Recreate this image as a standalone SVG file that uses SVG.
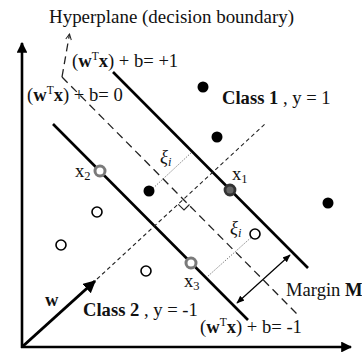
<svg xmlns="http://www.w3.org/2000/svg" width="362" height="352" viewBox="0 0 362 352">
<style>
text{font-family:"Liberation Serif","Times New Roman",serif;font-size:18.6px;fill:#111}
.b{font-weight:bold}
.sup{font-size:11.5px}
.sub{font-size:12.5px}
.axis{stroke:#000;stroke-width:2.6;fill:none}
.solid{stroke:#000;stroke-width:2.6;fill:none}
.hyper{stroke:#222;stroke-width:1.3;stroke-dasharray:8 5;fill:none}
.perp{stroke:#222;stroke-width:1.1;stroke-dasharray:4 3;fill:none}
.dot{stroke:#555;stroke-width:0.9;stroke-dasharray:1.2 1.6;fill:none}
.c1{fill:#000}
.c2{fill:#fff;stroke:#000;stroke-width:1.6}
.sv{fill:#fff;stroke:#7a7a7a;stroke-width:3}
</style>
<defs>
<marker id="ah" viewBox="0 0 10 10" refX="9" refY="5" markerWidth="4.2" markerHeight="4.2" orient="auto-start-reverse">
<path d="M0,0 L10,5 L0,10 z" fill="#000"/>
</marker>
<marker id="ahs" viewBox="0 0 10 10" refX="9" refY="5" markerWidth="8" markerHeight="8" markerUnits="userSpaceOnUse" orient="auto-start-reverse">
<path d="M0,1 L10,5 L0,9 z" fill="#000"/>
</marker>
<marker id="open" viewBox="0 0 10 10" refX="9" refY="5" markerWidth="7" markerHeight="7" markerUnits="userSpaceOnUse" orient="auto">
<path d="M1,1 L9,5 L1,9" fill="none" stroke="#222" stroke-width="1.4"/>
</marker>
</defs>
<rect width="362" height="352" fill="#fff"/>

<g id="connectors">
<line id="y-axis" class="axis" x1="22" y1="348" x2="22" y2="43" marker-end="url(#ah)"/>
<line id="x-axis" class="axis" x1="21" y1="347" x2="351" y2="347" marker-end="url(#ah)"/>
<line id="margin-plus" class="solid" x1="113" y1="72" x2="308" y2="268"/>
<line id="margin-minus" class="solid" x1="53" y1="124" x2="248" y2="320"/>
<line id="hyperplane" class="hyper" x1="62" y1="77" x2="299" y2="316"/>
<line id="hyperplane-pointer" class="hyper" stroke-dasharray="4 3" x1="62" y1="77" x2="69.5" y2="34" marker-end="url(#open)"/>
<line id="w-direction" class="perp" x1="97" y1="279" x2="266" y2="123"/>
<line id="w-vector" stroke="#000" stroke-width="3" x1="22" y1="347" x2="95" y2="281" marker-end="url(#ah)"/>
<polyline id="right-angle" points="189.5,204.5 184,210 178.3,204.4" fill="none" stroke="#222" stroke-width="1.1"/>
<line id="xi-upper" class="dot" x1="149" y1="192" x2="192" y2="152"/>
<line id="xi-lower" class="dot" x1="255" y1="234" x2="207" y2="277"/>
<line id="margin-arrow" stroke="#000" stroke-width="1.2" x1="237" y1="303" x2="290" y2="255" marker-start="url(#ahs)" marker-end="url(#ahs)"/>
</g>

<g id="class1-points">
<circle class="c1" cx="203" cy="87" r="5.5"/>
<circle class="c1" cx="217" cy="137" r="5.5"/>
<circle class="c1" cx="149" cy="191" r="5.5"/>
<circle class="c1" cx="328" cy="203" r="5.5"/>
</g>
<g id="class2-points">
<circle class="c2" cx="97" cy="212" r="5"/>
<circle class="c2" cx="61" cy="245" r="5"/>
<circle class="c2" cx="146" cy="271" r="5"/>
<circle class="c2" cx="255" cy="234" r="5"/>
</g>
<g id="x1"><circle cx="230" cy="190" r="5" fill="#666" stroke="#333" stroke-width="2.8"/>
<text x="232" y="180">x<tspan class="sub" dy="3">1</tspan></text></g>
<g id="x2"><circle class="sv" cx="100" cy="171" r="5"/>
<text x="75" y="177">x<tspan class="sub" dy="3">2</tspan></text></g>
<g id="x3"><circle class="sv" cx="191" cy="263" r="5"/>
<text x="184" y="287">x<tspan class="sub" dy="3">3</tspan></text></g>

<g id="labels">
<text x="49" y="23" font-size="19" textLength="245" lengthAdjust="spacingAndGlyphs">Hyperplane (decision boundary)</text>
<text x="72" y="67">(<tspan class="b">w</tspan><tspan class="sup" dy="-7">T</tspan><tspan class="b" dy="7">x</tspan>) + b= +1</text>
<text x="27" y="101">(<tspan class="b">w</tspan><tspan class="sup" dy="-7">T</tspan><tspan class="b" dy="7">x</tspan>) + b= 0</text>
<text x="222" y="104"><tspan class="b">Class 1</tspan> , y = 1</text>
<text x="83" y="316"><tspan class="b">Class 2</tspan> , y = -1</text>
<text x="200" y="333">(<tspan class="b">w</tspan><tspan class="sup" dy="-7">T</tspan><tspan class="b" dy="7">x</tspan>) + b= -1</text>
<text x="286" y="296" font-size="17.6">Margin <tspan class="b">M</tspan></text>
<text class="b" x="45" y="306">w</text>
<text x="160" y="163" font-style="italic" font-size="16">ξ<tspan class="sub" dy="3">i</tspan></text>
<text x="230" y="234" font-style="italic" font-size="16">ξ<tspan class="sub" dy="3">i</tspan></text>
</g>
</svg>
